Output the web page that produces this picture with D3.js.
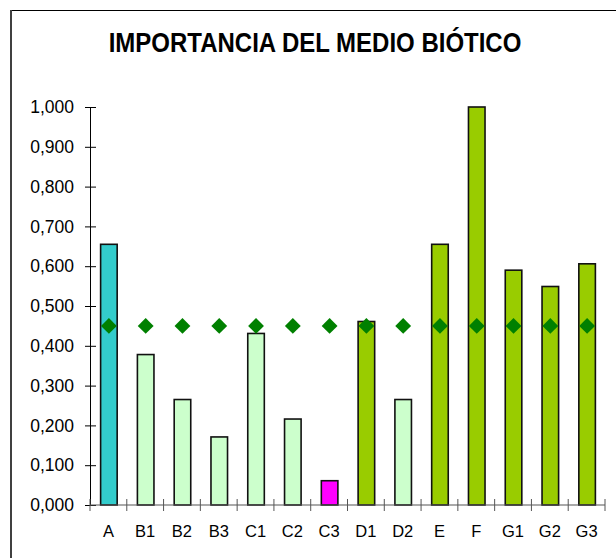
<!DOCTYPE html>
<meta charset="utf-8">
<style>
body { margin: 0; background: #fff; }
text { font-family: "Liberation Sans", Arial, sans-serif; fill: #000; }
</style>
<body>
<div id="grafico"></div>
<script src="https://d3js.org/d3.v7.min.js"></script>
<script>

    // datos
    var categorias = ["A", "B1", "B2", "B3", "C1", "C2", "C3", "D1", "D2", "E", "F", "G1", "G2", "G3"];
    var importancia = [0.655, 0.378, 0.265, 0.171, 0.431, 0.216, 0.061, 0.461, 0.265, 0.655, 1.000, 0.590, 0.549, 0.606];
    var clase = ["a", "b", "b", "b", "b", "b", "c", "d", "b", "d", "d", "d", "d", "d"];
    var media = [0.45, 0.45, 0.45, 0.45, 0.45, 0.45, 0.45, 0.45, 0.45, 0.45, 0.45, 0.45, 0.45, 0.45];
    var ticksY = [0, 0.1, 0.2, 0.3, 0.4, 0.5, 0.6, 0.7, 0.8, 0.9, 1.0];

    var width = 616,
        height = 558;

    var svg = d3.select("#grafico").append("svg")
        .attr("width", width)
        .attr("height", height);

    // marco del grafico (solo arriba e izquierda se ven)
    svg.append("line")
        .attr("x1", 10).attr("x2", width)
        .attr("y1", 10.5).attr("y2", 10.5)
        .attr("stroke", "#000").attr("stroke-width", 1.2);
    svg.append("line")
        .attr("x1", 11).attr("x2", 11)
        .attr("y1", 10).attr("y2", height)
        .attr("stroke", "#404040").attr("stroke-width", 2);

    svg.append("text")
        .attr("transform", "translate(315,52) scale(1,1.12)")
        .attr("text-anchor", "middle")
        .style("font-size", "24px")
        .style("font-weight", "bold")
        .text("IMPORTANCIA DEL MEDIO BIÓTICO");

    var x = d3.scaleBand()
        .domain(categorias)
        .range([90, 605])
        .padding(0);

    var y = d3.scaleLinear()
        .domain([0, 1])
        .range([505, 107]);

    var color = d3.scaleOrdinal()
        .domain(["a", "b", "c", "d"])
        .range(["#33CCCC", "#CCFFCC", "#FF00FF", "#99CC00"]);

    var fmt = function(d) { return d3.format(".3f")(d).replace(".", ","); };

    // eje Y
    var ejeY = svg.append("g")
        .attr("transform", "translate(90,0)")
        .call(d3.axisLeft(y).tickValues(ticksY).tickFormat(fmt).tickSize(5).tickPadding(11));
    ejeY.select(".domain").attr("stroke", "#000");
    ejeY.selectAll(".tick line").attr("x1", 6).attr("x2", -5).attr("stroke", "#000");
    ejeY.selectAll(".tick text")
        .style("font-size", "17.5px")
        .attr("x", -16);

    // barras
    var bw = x.bandwidth() * 0.45;
    svg.selectAll(".barra")
        .data(categorias)
        .enter().append("rect")
        .attr("class", "barra")
        .attr("x", function(d) { return x(d) + (x.bandwidth() - bw) / 2 + 0.5; })
        .attr("y", function(d, i) { return y(importancia[i]); })
        .attr("width", bw)
        .attr("height", function(d, i) { return y(0) - y(importancia[i]); })
        .attr("fill", function(d, i) { return color(clase[i]); })
        .attr("stroke", "#111")
        .attr("stroke-width", 1.6);

    // eje X con marcas entre categorias
    var ejeX = svg.append("g")
        .attr("transform", "translate(0," + y(0) + ")");
    ejeX.append("line")
        .attr("x1", x.range()[0]).attr("x2", x.range()[1])
        .attr("stroke", "#555").attr("stroke-width", 1.2);
    var bordes = categorias.map(function(c) { return x(c); }).concat([x.range()[1]]);
    ejeX.selectAll(".marca")
        .data(bordes)
        .enter().append("line")
        .attr("class", "marca")
        .attr("x1", function(d) { return d; }).attr("x2", function(d) { return d; })
        .attr("y1", -6).attr("y2", 6)
        .attr("stroke", "#555");
    ejeX.selectAll(".etiqueta")
        .data(categorias)
        .enter().append("text")
        .attr("class", "etiqueta")
        .attr("x", function(d) { return x(d) + x.bandwidth() / 2; })
        .attr("y", 32)
        .attr("text-anchor", "middle")
        .style("font-size", "16.5px")
        .text(function(d) { return d; });

    // puntos de la media (rombos)
    var rombo = d3.symbol().type(d3.symbolDiamond2).size(160);
    svg.selectAll(".media")
        .data(categorias)
        .enter().append("path")
        .attr("class", "media")
        .attr("d", rombo)
        .attr("transform", function(d, i) {
            return "translate(" + (x(d) + x.bandwidth() / 2 + 0.5) + "," + y(media[i]) + ")";
        })
        .attr("fill", "#008000");

</script>
</body>
